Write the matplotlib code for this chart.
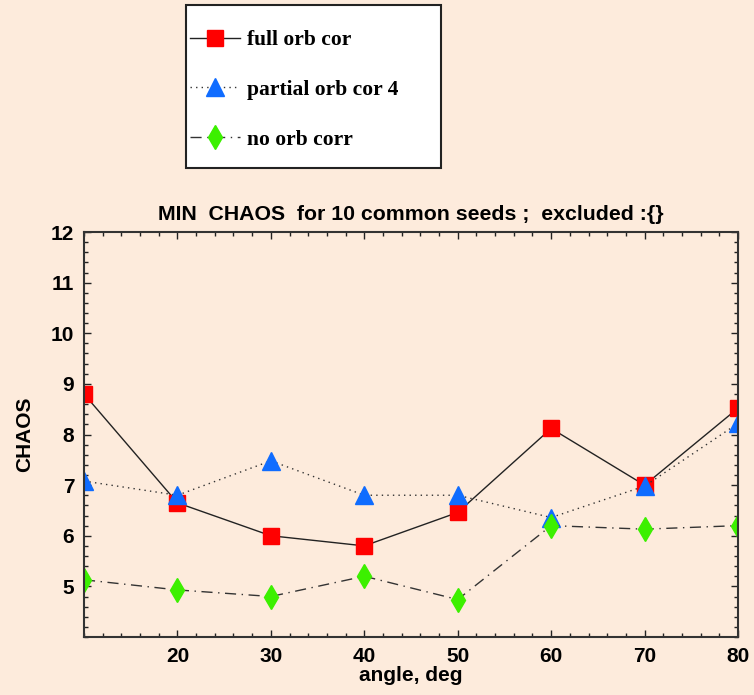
import matplotlib
matplotlib.use('Agg')
import matplotlib.pyplot as plt
from matplotlib.patches import Rectangle
from matplotlib.ticker import MultipleLocator

angles = [10, 20, 30, 40, 50, 60, 70, 80]
full_orb = [8.8, 6.65, 6.0, 5.8, 6.46, 8.12, 7.0, 8.52]
partial_orb = [7.08, 6.8, 7.48, 6.8, 6.8, 6.36, 6.98, 8.22]
no_orb = [5.13, 4.93, 4.8, 5.2, 4.74, 6.2, 6.13, 6.2]

labels = ["full orb cor", "partial orb cor 4", "no orb corr"]
bg = '#FDEBDC'

plt.rcParams['font.family'] = ['Liberation Sans', 'DejaVu Sans']

fig = plt.figure(figsize=(7.54, 6.95), dpi=100, facecolor=bg)
ax = fig.add_axes([84 / 754, 58 / 695, 654 / 754, 405 / 695])
ax.set_facecolor(bg)

l1, = ax.plot(angles, full_orb, color='#222222', lw=1.0, ls='-',
              marker='s', ms=12, mfc='#FF0000', mec='#FF0000')
l2, = ax.plot(angles, partial_orb, color='#333333', lw=1.0, ls=(0, (1, 3)),
              marker='^', ms=13, mfc='#0F6CFF', mec='#0F6CFF')
l3, = ax.plot(angles, no_orb, color='#333333', lw=1.0, ls=(0, (8, 4, 1, 4)),
              marker='d', ms=12.5, mfc='#3CF000', mec='#3CF000')

ax.set_xlim(10, 80)
ax.set_ylim(4, 12)
ax.set_xticks([20, 30, 40, 50, 60, 70, 80])
ax.set_yticks([5, 6, 7, 8, 9, 10, 11, 12])
ax.xaxis.set_minor_locator(MultipleLocator(2))
ax.yaxis.set_minor_locator(MultipleLocator(0.2))
ax.tick_params(which='both', direction='in', top=True, right=True, width=1.0, color='#222222')
ax.tick_params(which='major', length=5, labelsize=15, pad=7)
ax.tick_params(which='minor', length=3)
for lab in ax.get_xticklabels() + ax.get_yticklabels():
    lab.set_fontweight('bold')
for s in ax.spines.values():
    s.set_linewidth(1.5)
    s.set_color('#333333')

ax.set_xlabel("angle, deg", fontsize=15, fontweight='bold', labelpad=0)
ax.set_ylabel("CHAOS", fontsize=15, fontweight='bold', labelpad=12)
ax.set_title("MIN  CHAOS  for 10 common seeds ;  excluded :{}",
             fontsize=15.3, fontweight='bold', pad=9)

# legend box above the plot
fig.patches.append(Rectangle((186 / 754, 1 - 168 / 695), 255 / 754, 163 / 695,
                             transform=fig.transFigure, facecolor='white',
                             edgecolor='#222222', lw=1.5, zorder=1))
leg = fig.legend([l1, l2, l3], labels, loc='upper left',
                 bbox_to_anchor=(190 / 754, 1 - 30 / 695),
                 frameon=False, borderpad=0, borderaxespad=0,
                 labelspacing=1.38, handlelength=2.3, handletextpad=0.35,
                 prop={'family': ['Liberation Serif', 'DejaVu Serif'],
                       'weight': 'bold', 'size': 15.5})
leg.set_zorder(2)

fig.savefig("out.png", dpi=100, facecolor=bg)
